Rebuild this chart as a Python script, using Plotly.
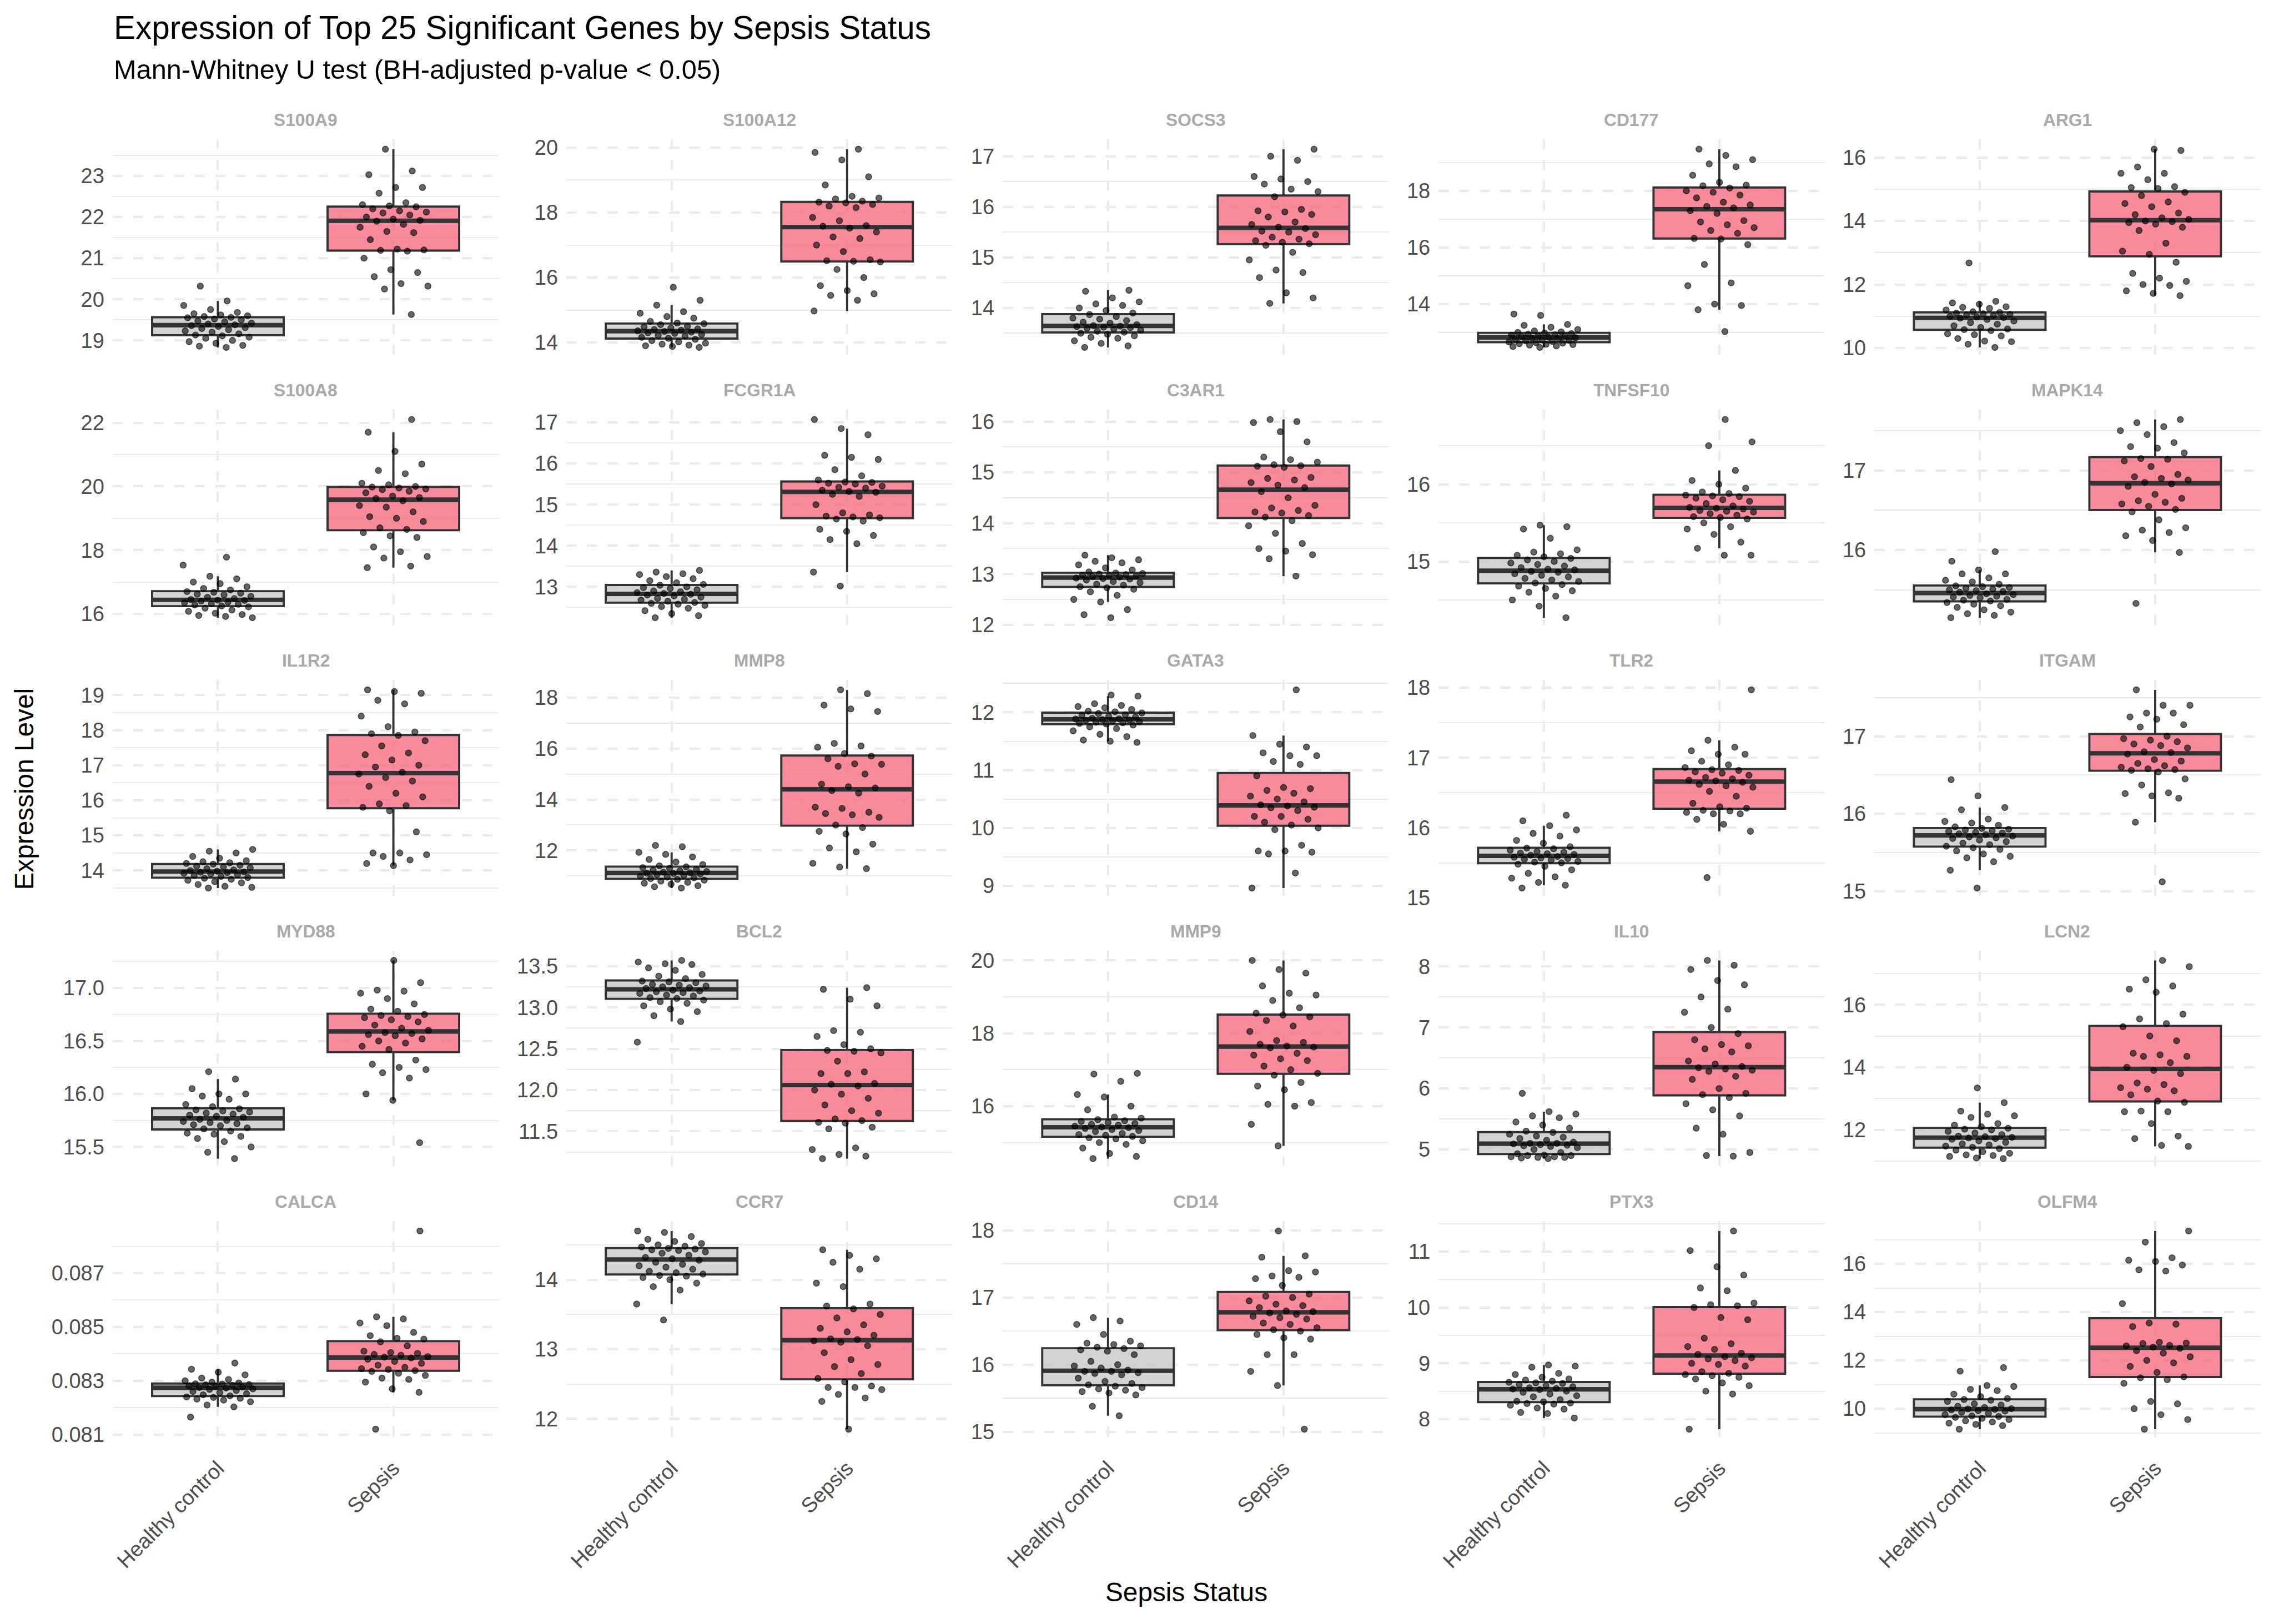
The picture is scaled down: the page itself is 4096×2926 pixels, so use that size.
import numpy as np
import plotly.graph_objects as go

# ---------------- data ----------------
GENES = ["S100A9", "S100A12", "SOCS3", "CD177", "ARG1",
         "S100A8", "FCGR1A", "C3AR1", "TNFSF10", "MAPK14",
         "IL1R2", "MMP8", "GATA3", "TLR2", "ITGAM",
         "MYD88", "BCL2", "MMP9", "IL10", "LCN2",
         "CALCA", "CCR7", "CD14", "PTX3", "OLFM4"]
GROUPS = ["Healthy control", "Sepsis"]

S100A9_healthy = [18.83, 18.86, 18.88, 18.93, 18.97, 19.0, 19.05, 19.08, 19.11,
                  19.13, 19.16, 19.2, 19.23, 19.26, 19.29, 19.31, 19.34, 19.36,
                  19.38, 19.4, 19.42, 19.45, 19.47, 19.5, 19.52, 19.55, 19.56,
                  19.58, 19.6, 19.62, 19.65, 19.68, 19.75, 19.85, 19.96, 20.32]
S100A9_sepsis = [19.63, 20.25, 20.32, 20.38, 20.55, 20.65, 20.72, 21.0, 21.17,
                 21.19, 21.2, 21.22, 21.45, 21.62, 21.65, 21.75, 21.82, 21.9,
                 21.92, 21.95, 22.0, 22.05, 22.1, 22.12, 22.15, 22.2, 22.25,
                 22.27, 22.3, 22.35, 22.58, 22.72, 22.72, 23.03, 23.12, 23.65]
S100A12_healthy = [13.85, 13.88, 13.9, 13.92, 13.95, 13.98, 14.02, 14.06, 14.1,
                   14.13, 14.16, 14.2, 14.22, 14.25, 14.28, 14.3, 14.32, 14.34,
                   14.36, 14.38, 14.4, 14.42, 14.45, 14.48, 14.5, 14.55, 14.58,
                   14.6, 14.65, 14.75, 14.8, 14.9, 14.95, 15.15, 15.3, 15.7]
S100A12_sepsis = [14.97, 15.3, 15.45, 15.5, 15.6, 15.75, 16.0, 16.25, 16.48,
                  16.5, 16.52, 16.55, 16.8, 17.0, 17.2, 17.25, 17.4, 17.52,
                  17.58, 17.6, 17.75, 17.85, 18.15, 18.2, 18.25, 18.3, 18.32,
                  18.35, 18.42, 18.45, 18.5, 18.85, 19.1, 19.62, 19.85, 19.95]
SOCS3_healthy = [13.22, 13.25, 13.3, 13.35, 13.4, 13.42, 13.45, 13.48, 13.5,
                 13.52, 13.54, 13.56, 13.58, 13.6, 13.61, 13.62, 13.63, 13.64,
                 13.65, 13.67, 13.7, 13.72, 13.75, 13.78, 13.8, 13.83, 13.87,
                 13.9, 13.95, 14.0, 14.05, 14.08, 14.12, 14.2, 14.33, 14.35]
SOCS3_sepsis = [14.09, 14.2, 14.3, 14.6, 14.7, 14.75, 14.95, 15.1, 15.24,
                15.27, 15.3, 15.33, 15.36, 15.4, 15.45, 15.5, 15.52, 15.57,
                15.6, 15.65, 15.7, 15.8, 15.85, 15.9, 15.92, 15.95, 16.2,
                16.3, 16.35, 16.45, 16.5, 16.55, 16.6, 16.92, 17.0, 17.14]
CD177_healthy = [12.47, 12.5, 12.52, 12.55, 12.57, 12.58, 12.6, 12.62, 12.64,
                 12.66, 12.68, 12.7, 12.72, 12.74, 12.76, 12.78, 12.8, 12.81,
                 12.83, 12.85, 12.87, 12.88, 12.9, 12.92, 12.94, 12.96, 12.98,
                 13.0, 13.02, 13.05, 13.1, 13.18, 13.25, 13.28, 13.6, 13.65]
CD177_sepsis = [13.03, 13.8, 13.95, 14.0, 14.65, 14.75, 15.4, 16.1, 16.3,
                16.32, 16.5, 16.6, 16.7, 16.8, 16.9, 16.95, 17.2, 17.3,
                17.4, 17.45, 17.5, 17.6, 17.75, 17.85, 17.95, 18.0, 18.1,
                18.18, 18.2, 18.3, 18.55, 18.85, 18.95, 19.1, 19.25, 19.47]
ARG1_healthy = [10.02, 10.12, 10.2, 10.22, 10.3, 10.38, 10.42, 10.45, 10.55,
                10.58, 10.6, 10.65, 10.7, 10.75, 10.8, 10.85, 10.9, 10.94,
                10.96, 10.98, 11.0, 11.02, 11.04, 11.06, 11.08, 11.1, 11.12,
                11.14, 11.2, 11.25, 11.28, 11.3, 11.38, 11.42, 11.47, 12.68]
ARG1_sepsis = [11.65, 11.72, 11.8, 11.97, 12.0, 12.1, 12.2, 12.35, 12.7,
               12.95, 13.05, 13.3, 13.7, 13.8, 13.9, 13.95, 13.98, 14.0,
               14.05, 14.1, 14.2, 14.25, 14.45, 14.55, 14.6, 14.8, 14.9,
               15.02, 15.05, 15.08, 15.3, 15.5, 15.5, 15.7, 16.22, 16.26]
S100A8_healthy = [15.88, 15.92, 15.95, 15.98, 16.02, 16.08, 16.12, 16.18, 16.22,
                  16.25, 16.28, 16.3, 16.32, 16.35, 16.37, 16.4, 16.42, 16.43,
                  16.45, 16.48, 16.52, 16.55, 16.6, 16.62, 16.65, 16.68, 16.7,
                  16.75, 16.8, 16.85, 16.95, 17.0, 17.1, 17.18, 17.53, 17.78]
S100A8_sepsis = [17.45, 17.5, 17.75, 17.8, 17.95, 18.1, 18.4, 18.45, 18.55,
                 18.65, 18.7, 18.9, 19.0, 19.05, 19.2, 19.35, 19.4, 19.55,
                 19.62, 19.65, 19.7, 19.8, 19.85, 19.9, 19.92, 19.95, 19.98,
                 20.0, 20.05, 20.1, 20.4, 20.5, 20.7, 21.1, 21.7, 22.1]
FCGR1A_healthy = [12.25, 12.3, 12.35, 12.42, 12.48, 12.52, 12.55, 12.58, 12.6,
                  12.62, 12.65, 12.68, 12.7, 12.72, 12.75, 12.78, 12.8, 12.82,
                  12.84, 12.86, 12.88, 12.9, 12.93, 12.96, 12.98, 13.0, 13.04,
                  13.06, 13.1, 13.15, 13.2, 13.25, 13.3, 13.32, 13.36, 13.4]
FCGR1A_sepsis = [13.02, 13.36, 14.05, 14.15, 14.25, 14.35, 14.4, 14.6, 14.65,
                 14.68, 14.7, 14.72, 14.75, 14.8, 15.0, 15.2, 15.25, 15.3,
                 15.32, 15.35, 15.4, 15.42, 15.45, 15.5, 15.52, 15.54, 15.55,
                 15.6, 15.7, 15.85, 16.1, 16.15, 16.2, 16.7, 16.85, 17.07]
C3AR1_healthy = [12.14, 12.2, 12.3, 12.45, 12.5, 12.58, 12.65, 12.7, 12.73,
                 12.75, 12.78, 12.8, 12.83, 12.85, 12.88, 12.9, 12.91, 12.92,
                 12.94, 12.95, 12.96, 12.97, 12.98, 12.99, 13.0, 13.01, 13.02,
                 13.04, 13.08, 13.12, 13.18, 13.22, 13.25, 13.28, 13.32, 13.37]
C3AR1_sepsis = [12.96, 13.3, 13.38, 13.45, 13.5, 13.6, 13.8, 13.95, 14.05,
                14.12, 14.15, 14.2, 14.22, 14.25, 14.3, 14.35, 14.5, 14.62,
                14.7, 14.75, 14.8, 14.85, 14.88, 14.9, 15.1, 15.12, 15.13,
                15.15, 15.2, 15.25, 15.3, 15.6, 15.8, 15.98, 16.0, 16.04]
TNFSF10_healthy = [14.27, 14.42, 14.5, 14.55, 14.6, 14.62, 14.65, 14.68, 14.7,
                   14.72, 14.74, 14.76, 14.78, 14.8, 14.82, 14.84, 14.86, 14.87,
                   14.89, 14.9, 14.92, 14.94, 14.96, 14.98, 15.0, 15.02, 15.04,
                   15.06, 15.08, 15.1, 15.12, 15.15, 15.3, 15.42, 15.45, 15.47]
TNFSF10_sepsis = [15.08, 15.08, 15.17, 15.25, 15.35, 15.42, 15.45, 15.5, 15.55,
                  15.57, 15.58, 15.6, 15.62, 15.64, 15.65, 15.66, 15.68, 15.69,
                  15.7, 15.72, 15.75, 15.78, 15.8, 15.82, 15.84, 15.85, 15.86,
                  15.88, 15.9, 15.95, 16.0, 16.05, 16.18, 16.5, 16.55, 16.84]
MAPK14_healthy = [15.15, 15.18, 15.2, 15.22, 15.25, 15.28, 15.3, 15.32, 15.34,
                  15.36, 15.37, 15.38, 15.4, 15.41, 15.42, 15.43, 15.44, 15.45,
                  15.47, 15.48, 15.49, 15.5, 15.51, 15.52, 15.53, 15.54, 15.55,
                  15.57, 15.6, 15.62, 15.65, 15.7, 15.7, 15.75, 15.86, 15.98]
MAPK14_sepsis = [15.33, 15.97, 16.12, 16.18, 16.22, 16.25, 16.28, 16.38, 16.48,
                 16.51, 16.55, 16.58, 16.6, 16.62, 16.65, 16.7, 16.8, 16.83,
                 16.85, 16.88, 16.9, 16.92, 16.95, 17.05, 17.12, 17.14, 17.15,
                 17.22, 17.28, 17.3, 17.35, 17.45, 17.5, 17.55, 17.6, 17.64]
IL1R2_healthy = [13.5, 13.52, 13.55, 13.6, 13.65, 13.68, 13.72, 13.75, 13.78,
                 13.8, 13.83, 13.86, 13.88, 13.9, 13.92, 13.94, 13.95, 13.96,
                 13.98, 14.0, 14.02, 14.05, 14.08, 14.1, 14.12, 14.15, 14.18,
                 14.2, 14.22, 14.25, 14.28, 14.35, 14.4, 14.5, 14.55, 14.6]
IL1R2_sepsis = [14.14, 14.2, 14.3, 14.4, 14.45, 14.5, 14.5, 15.1, 15.7,
                15.8, 15.85, 15.9, 16.1, 16.2, 16.4, 16.55, 16.65, 16.75,
                16.8, 16.95, 17.0, 17.15, 17.3, 17.35, 17.55, 17.7, 17.85,
                17.9, 17.95, 18.1, 18.4, 18.75, 18.85, 19.05, 19.1, 19.15]
MMP8_healthy = [10.53, 10.58, 10.62, 10.68, 10.72, 10.75, 10.8, 10.84, 10.87,
                10.9, 10.93, 10.96, 10.99, 11.02, 11.05, 11.08, 11.1, 11.11,
                11.13, 11.15, 11.18, 11.2, 11.23, 11.26, 11.3, 11.33, 11.36,
                11.4, 11.45, 11.55, 11.65, 11.75, 11.85, 11.93, 12.15, 12.2]
MMP8_sepsis = [11.29, 11.35, 11.5, 11.95, 12.1, 12.25, 12.65, 12.75, 12.9,
               13.0, 13.3, 13.4, 13.45, 13.5, 13.65, 13.7, 14.25, 14.35,
               14.45, 14.5, 14.6, 15.0, 15.3, 15.38, 15.4, 15.6, 15.7,
               15.8, 16.05, 16.1, 16.2, 17.45, 17.55, 17.7, 18.15, 18.3]
GATA3_healthy = [11.48, 11.5, 11.52, 11.58, 11.62, 11.68, 11.72, 11.75, 11.78,
                 11.8, 11.81, 11.82, 11.83, 11.84, 11.85, 11.86, 11.87, 11.875,
                 11.885, 11.89, 11.9, 11.92, 11.93, 11.95, 11.96, 11.98, 11.99,
                 12.01, 12.02, 12.05, 12.08, 12.1, 12.12, 12.15, 12.28, 12.3]
GATA3_sepsis = [8.96, 9.22, 9.55, 9.58, 9.6, 9.6, 9.7, 9.97, 10.0,
                10.05, 10.1, 10.15, 10.2, 10.2, 10.3, 10.35, 10.36, 10.38,
                10.4, 10.45, 10.5, 10.55, 10.6, 10.65, 10.68, 10.7, 10.9,
                11.1, 11.15, 11.25, 11.25, 11.3, 11.4, 11.45, 11.6, 12.39]
TLR2_healthy = [15.14, 15.18, 15.22, 15.28, 15.3, 15.35, 15.4, 15.45, 15.48,
                15.5, 15.51, 15.52, 15.54, 15.55, 15.56, 15.57, 15.58, 15.59,
                15.61, 15.62, 15.63, 15.64, 15.65, 15.66, 15.68, 15.7, 15.71,
                15.73, 15.78, 15.82, 15.88, 15.92, 15.97, 16.03, 16.1, 16.18]
TLR2_sepsis = [15.29, 15.95, 16.05, 16.12, 16.2, 16.2, 16.22, 16.24, 16.25,
               16.28, 16.3, 16.35, 16.45, 16.52, 16.58, 16.6, 16.62, 16.65,
               16.67, 16.68, 16.7, 16.72, 16.75, 16.78, 16.8, 16.82, 16.83,
               16.86, 16.9, 16.95, 17.05, 17.05, 17.1, 17.15, 17.25, 17.97]
ITGAM_healthy = [15.04, 15.27, 15.38, 15.43, 15.45, 15.48, 15.52, 15.54, 15.56,
                 15.58, 15.6, 15.62, 15.64, 15.66, 15.68, 15.69, 15.7, 15.71,
                 15.73, 15.74, 15.75, 15.76, 15.77, 15.78, 15.79, 15.8, 15.81,
                 15.83, 15.85, 15.88, 15.9, 15.93, 16.05, 16.08, 16.23, 16.44]
ITGAM_sepsis = [15.12, 15.89, 16.2, 16.23, 16.26, 16.27, 16.37, 16.45, 16.54,
                16.56, 16.57, 16.58, 16.6, 16.62, 16.65, 16.68, 16.7, 16.77,
                16.79, 16.8, 16.85, 16.88, 16.9, 16.93, 16.95, 16.97, 17.0,
                17.12, 17.15, 17.22, 17.25, 17.3, 17.3, 17.4, 17.4, 17.6]
MYD88_healthy = [15.39, 15.45, 15.5, 15.55, 15.58, 15.6, 15.62, 15.63, 15.65,
                 15.67, 15.68, 15.7, 15.71, 15.72, 15.73, 15.74, 15.75, 15.76,
                 15.78, 15.79, 15.8, 15.81, 15.82, 15.83, 15.84, 15.85, 15.86,
                 15.88, 15.9, 15.95, 15.98, 16.0, 16.0, 16.05, 16.14, 16.21]
MYD88_sepsis = [15.54, 15.94, 16.0, 16.15, 16.2, 16.23, 16.25, 16.28, 16.32,
                16.42, 16.45, 16.48, 16.5, 16.52, 16.55, 16.56, 16.57, 16.58,
                16.6, 16.62, 16.65, 16.68, 16.7, 16.72, 16.73, 16.74, 16.75,
                16.78, 16.8, 16.85, 16.9, 16.95, 16.97, 16.98, 17.05, 17.26]
BCL2_healthy = [12.58, 12.83, 12.9, 12.95, 12.98, 13.02, 13.05, 13.07, 13.09,
                13.11, 13.12, 13.14, 13.15, 13.17, 13.18, 13.19, 13.2, 13.21,
                13.23, 13.24, 13.25, 13.26, 13.27, 13.28, 13.3, 13.31, 13.32,
                13.35, 13.38, 13.4, 13.45, 13.48, 13.52, 13.53, 13.55, 13.57]
BCL2_sepsis = [11.17, 11.2, 11.22, 11.28, 11.3, 11.53, 11.55, 11.6, 11.61,
               11.63, 11.65, 11.72, 11.75, 11.82, 11.9, 11.95, 12.0, 12.05,
               12.07, 12.08, 12.2, 12.2, 12.22, 12.35, 12.45, 12.47, 12.48,
               12.5, 12.55, 12.65, 12.7, 12.72, 13.02, 13.1, 13.22, 13.24]
MMP9_healthy = [14.56, 14.62, 14.7, 14.85, 14.95, 15.0, 15.05, 15.1, 15.13,
                15.17, 15.2, 15.22, 15.25, 15.3, 15.33, 15.36, 15.39, 15.41,
                15.43, 15.45, 15.48, 15.5, 15.52, 15.55, 15.58, 15.6, 15.63,
                15.67, 15.7, 15.9, 16.0, 16.25, 16.32, 16.68, 16.88, 16.9]
MMP9_sepsis = [14.91, 15.5, 16.0, 16.05, 16.1, 16.45, 16.55, 16.65, 16.85,
               16.9, 17.0, 17.1, 17.25, 17.3, 17.4, 17.45, 17.6, 17.62,
               17.65, 17.7, 17.75, 17.8, 18.05, 18.2, 18.35, 18.45, 18.5,
               18.55, 18.7, 18.9, 19.05, 19.1, 19.3, 19.65, 19.75, 20.0]
IL10_healthy = [4.85, 4.86, 4.87, 4.87, 4.88, 4.88, 4.9, 4.9, 4.91,
                4.93, 4.95, 5.0, 5.03, 5.05, 5.06, 5.07, 5.08, 5.09,
                5.1, 5.1, 5.12, 5.15, 5.18, 5.2, 5.22, 5.25, 5.28,
                5.3, 5.35, 5.4, 5.45, 5.52, 5.55, 5.58, 5.62, 5.92]
IL10_sepsis = [4.89, 4.9, 4.95, 5.25, 5.35, 5.55, 5.65, 5.75, 5.85,
               5.9, 5.92, 6.0, 6.15, 6.2, 6.28, 6.3, 6.32, 6.34,
               6.36, 6.4, 6.45, 6.6, 6.65, 6.7, 6.72, 6.8, 6.9,
               7.0, 7.25, 7.3, 7.5, 7.7, 7.77, 7.95, 8.02, 8.1]
LCN2_healthy = [11.08, 11.1, 11.15, 11.18, 11.2, 11.25, 11.3, 11.35, 11.4,
                11.44, 11.48, 11.52, 11.55, 11.6, 11.65, 11.7, 11.72, 11.74,
                11.76, 11.78, 11.8, 11.85, 11.9, 11.95, 12.0, 12.02, 12.05,
                12.1, 12.15, 12.2, 12.4, 12.45, 12.5, 12.6, 12.87, 13.34]
LCN2_sepsis = [11.47, 11.5, 11.72, 11.8, 12.2, 12.58, 12.58, 12.6, 12.88,
               12.92, 13.12, 13.25, 13.3, 13.35, 13.45, 13.5, 13.8, 13.9,
               14.0, 14.15, 14.35, 14.35, 14.4, 14.45, 14.85, 15.0, 15.3,
               15.4, 15.55, 15.7, 16.4, 16.5, 16.6, 16.8, 17.22, 17.42]
CALCA_healthy = [0.08165, 0.08203, 0.0821, 0.08222, 0.08228, 0.08232, 0.08235, 0.08238, 0.0824,
                 0.08244, 0.08248, 0.08252, 0.08256, 0.0826, 0.08264, 0.08268, 0.0827, 0.08273,
                 0.08275, 0.08277, 0.08279, 0.08281, 0.08283, 0.08285, 0.08286, 0.08288, 0.08289,
                 0.08292, 0.08295, 0.083, 0.08305, 0.0831, 0.08322, 0.08332, 0.08343, 0.08366]
CALCA_sepsis = [0.0812, 0.08257, 0.0827, 0.08295, 0.08305, 0.0831, 0.0832, 0.08328, 0.08335,
                0.08338, 0.08342, 0.08345, 0.0835, 0.08358, 0.08365, 0.08372, 0.0838, 0.08385,
                0.08388, 0.0839, 0.08395, 0.08398, 0.08402, 0.08405, 0.0841, 0.0843, 0.08445,
                0.08455, 0.08458, 0.08468, 0.0848, 0.08505, 0.08515, 0.0853, 0.08538, 0.08857]
CCR7_healthy = [13.42, 13.65, 13.85, 13.9, 13.95, 14.0, 14.03, 14.05, 14.06,
                14.08, 14.1, 14.12, 14.15, 14.18, 14.2, 14.22, 14.25, 14.28,
                14.3, 14.32, 14.35, 14.38, 14.4, 14.42, 14.43, 14.44, 14.45,
                14.47, 14.48, 14.5, 14.52, 14.55, 14.58, 14.62, 14.68, 14.7]
CCR7_sepsis = [11.85, 12.25, 12.3, 12.35, 12.42, 12.45, 12.45, 12.47, 12.53,
               12.58, 12.65, 12.75, 12.78, 12.85, 12.95, 13.05, 13.1, 13.12,
               13.14, 13.15, 13.2, 13.25, 13.3, 13.35, 13.45, 13.5, 13.58,
               13.62, 13.65, 13.9, 13.95, 14.15, 14.25, 14.3, 14.35, 14.43]
CD14_healthy = [15.24, 15.38, 15.55, 15.58, 15.6, 15.62, 15.64, 15.66, 15.68,
                15.7, 15.72, 15.75, 15.8, 15.85, 15.87, 15.88, 15.9, 15.9,
                15.92, 15.95, 15.98, 16.0, 16.05, 16.15, 16.2, 16.22, 16.24,
                16.26, 16.28, 16.3, 16.32, 16.35, 16.45, 16.6, 16.65, 16.7]
CD14_sepsis = [15.04, 15.69, 15.9, 16.15, 16.15, 16.38, 16.4, 16.45, 16.5,
               16.52, 16.55, 16.6, 16.62, 16.68, 16.7, 16.72, 16.75, 16.77,
               16.79, 16.8, 16.85, 16.88, 16.9, 16.95, 17.0, 17.02, 17.05,
               17.18, 17.28, 17.3, 17.32, 17.38, 17.4, 17.6, 17.62, 17.99]
PTX3_healthy = [8.02, 8.1, 8.12, 8.18, 8.2, 8.25, 8.27, 8.28, 8.29,
                8.31, 8.32, 8.35, 8.4, 8.42, 8.45, 8.48, 8.5, 8.53,
                8.54, 8.55, 8.56, 8.58, 8.6, 8.62, 8.64, 8.65, 8.66,
                8.68, 8.7, 8.72, 8.75, 8.8, 8.82, 8.93, 8.95, 8.97]
PTX3_sepsis = [7.82, 8.45, 8.5, 8.6, 8.65, 8.72, 8.75, 8.78, 8.8,
               8.82, 8.85, 8.95, 8.98, 9.0, 9.05, 9.08, 9.1, 9.12,
               9.16, 9.18, 9.25, 9.3, 9.35, 9.45, 9.78, 9.82, 10.0,
               10.03, 10.05, 10.08, 10.3, 10.35, 10.58, 10.73, 11.02, 11.37]
OLFM4_healthy = [9.15, 9.3, 9.35, 9.4, 9.45, 9.5, 9.55, 9.6, 9.64,
                 9.68, 9.7, 9.75, 9.8, 9.85, 9.9, 9.92, 9.95, 9.97,
                 9.99, 10.0, 10.05, 10.1, 10.15, 10.2, 10.3, 10.35, 10.38,
                 10.42, 10.5, 10.6, 10.75, 10.8, 10.92, 10.96, 11.55, 11.7]
OLFM4_sepsis = [9.15, 9.55, 9.75, 10.0, 10.2, 10.3, 11.05, 11.2, 11.28,
                11.32, 11.5, 11.75, 11.9, 12.0, 12.15, 12.3, 12.4, 12.5,
                12.55, 12.6, 12.62, 12.7, 12.72, 12.75, 13.4, 13.5, 13.55,
                14.35, 15.7, 15.75, 15.95, 16.1, 16.15, 16.25, 16.9, 17.36]

# y tick spacing per panel (as in the reference axes)
Y_DTICK = [1, 2, 1, 2, 2,
           2, 1, 1, 1, 1,
           1, 2, 1, 1, 1,
           0.5, 0.5, 2, 1, 2,
           0.002, 1, 1, 1, 2]
Y_TICK0 = [0, 0, 0, 0, 0,
           0, 0, 0, 0, 0,
           0, 0, 0, 0, 0,
           0, 0, 0, 0, 0,
           0.081, 0, 0, 0, 0]
Y_FORMAT = ["d"] * 15 + [".1f", ".1f", "d", "d", "d"] + [".3f", "d", "d", "d", "d"]

DATA = {}
for g in GENES:
    DATA[g] = (globals()[g + "_healthy"], globals()[g + "_sepsis"])

# ---------------- geometry / style ----------------
REF_W, REF_H = 4200.0, 3000.0
W, H = 4096, 2926
S = W / REF_W

COL_L = [208, 1046, 1852, 2657, 3462]
PANEL_W = 713
ROW_T = [253.5, 757.5, 1261.5, 1766, 2270.5]
PANEL_H = 406.5

FONT = "Liberation Sans, Arial, Helvetica, sans-serif"
GRID = "#EBEBEB"
FILLS = ["rgba(200,200,200,0.8)", "rgba(246,110,130,0.8)"]
EDGE = "#333333"
BOX_W = 0.75
JIT = 0.2
DASH = f"{19 * S:.1f}px,{19 * S:.1f}px"

fig = go.Figure()
layout = dict(
    width=W, height=H, autosize=False,
    margin=dict(l=0, r=0, t=0, b=0, pad=0),
    paper_bgcolor="white", plot_bgcolor="white",
    showlegend=False,
    font=dict(family=FONT, color="#4D4D4D"),
)
annotations = []

for i, gene in enumerate(GENES):
    r, c = divmod(i, 5)
    xa = "x" if i == 0 else f"x{i+1}"
    ya = "y" if i == 0 else f"y{i+1}"
    x0 = COL_L[c] / REF_W
    x1 = (COL_L[c] + PANEL_W) / REF_W
    y1 = 1 - ROW_T[r] / REF_H
    y0 = 1 - (ROW_T[r] + PANEL_H) / REF_H

    groups = DATA[gene]
    allv = np.concatenate([np.asarray(v, float) for v in groups])
    lo, hi = allv.min(), allv.max()
    pad = 0.05 * (hi - lo)

    for gi, vals in enumerate(groups):
        v = np.asarray(vals, float)
        pos = gi + 1
        q1, med, q3 = np.percentile(v, [25, 50, 75])
        iqr = q3 - q1
        lf = v[v >= q1 - 1.5 * iqr].min()
        uf = v[v <= q3 + 1.5 * iqr].max()
        fig.add_trace(go.Box(
            x=[pos], q1=[q1], median=[med], q3=[q3],
            lowerfence=[lf], upperfence=[uf],
            width=BOX_W, whiskerwidth=0, boxpoints=False,
            fillcolor=FILLS[gi], line=dict(color=EDGE, width=4.0 * S),
            xaxis=xa, yaxis=ya, showlegend=False, hoverinfo="skip",
        ))
        fig.add_trace(go.Scatter(
            x=[pos - BOX_W / 2, pos + BOX_W / 2], y=[med, med],
            mode="lines", line=dict(color=EDGE, width=8.3 * S),
            xaxis=xa, yaxis=ya, showlegend=False, hoverinfo="skip",
        ))
        n = len(v)
        phase = (i * 2 + gi) * 0.1373
        offs = (((np.arange(n) + 1) * 0.6180339887 + phase) % 1.0 - 0.5) * 2 * JIT
        fig.add_trace(go.Scatter(
            x=pos + offs, y=v, mode="markers",
            marker=dict(size=11.2 * S, color="rgba(0,0,0,0.6)",
                        line=dict(color="rgba(0,0,0,0.6)", width=1.6 * S)),
            xaxis=xa, yaxis=ya, showlegend=False, hoverinfo="skip",
        ))

    bottom = (r == 4)
    layout["xaxis" if i == 0 else f"xaxis{i+1}"] = dict(
        domain=[x0, x1], anchor=ya, range=[0.4, 2.6],
        tickmode="array", tickvals=[1, 2], ticktext=GROUPS,
        showticklabels=bottom, tickangle=-45, ticks="",
        tickfont=dict(size=39 * S, color="#4D4D4D", family=FONT),
        ticklabelstandoff=22,
        showgrid=True, gridcolor=GRID, gridwidth=4.2 * S, griddash=DASH,
        zeroline=False, showline=False, fixedrange=True,
    )
    layout["yaxis" if i == 0 else f"yaxis{i+1}"] = dict(
        domain=[y0, y1], anchor=xa, range=[lo - pad, hi + pad],
        tickmode="linear", tick0=Y_TICK0[i], dtick=Y_DTICK[i],
        tickformat=Y_FORMAT[i], ticks="",
        tickfont=dict(size=39 * S, color="#4D4D4D", family=FONT),
        ticklabelstandoff=14,
        showgrid=True, gridcolor=GRID, gridwidth=4.2 * S, griddash=DASH,
        minor=dict(tickmode="linear", tick0=Y_TICK0[i], dtick=Y_DTICK[i] / 2,
                   showgrid=True, gridcolor=GRID, gridwidth=2.4 * S,
                   griddash="solid", ticks=""),
        zeroline=False, showline=False, fixedrange=True,
    )
    annotations.append(dict(
        text=f"<b>{gene}</b>", xref="paper", yref="paper",
        x=(x0 + x1) / 2, y=1 - (ROW_T[r] - 36) / REF_H,
        xanchor="center", yanchor="middle", showarrow=False,
        font=dict(size=32.5 * S, color="#A9A9A9", family=FONT),
    ))

annotations += [
    dict(text="Expression of Top 25 Significant Genes by Sepsis Status",
         xref="paper", yref="paper", x=COL_L[0] / REF_W, y=1 - 45 / REF_H,
         xanchor="left", yanchor="middle", showarrow=False,
         font=dict(size=60 * S, color="black", family=FONT)),
    dict(text="Mann-Whitney U test (BH-adjusted p-value < 0.05)",
         xref="paper", yref="paper", x=COL_L[0] / REF_W, y=1 - 123 / REF_H,
         xanchor="left", yanchor="middle", showarrow=False,
         font=dict(size=50 * S, color="black", family=FONT)),
    dict(text="Sepsis Status", xref="paper", yref="paper",
         x=(COL_L[0] + COL_L[4] + PANEL_W) / 2 / REF_W, y=1 - 2962 / REF_H,
         xanchor="center", yanchor="middle", showarrow=False,
         font=dict(size=49 * S, color="black", family=FONT)),
    dict(text="Expression Level", xref="paper", yref="paper",
         x=45 / REF_W, y=1 - 1465 / REF_H, textangle=-90,
         xanchor="center", yanchor="middle", showarrow=False,
         font=dict(size=49 * S, color="black", family=FONT)),
]
layout["annotations"] = annotations
fig.update_layout(**layout)
fig.write_html("out.html", include_plotlyjs=True)
